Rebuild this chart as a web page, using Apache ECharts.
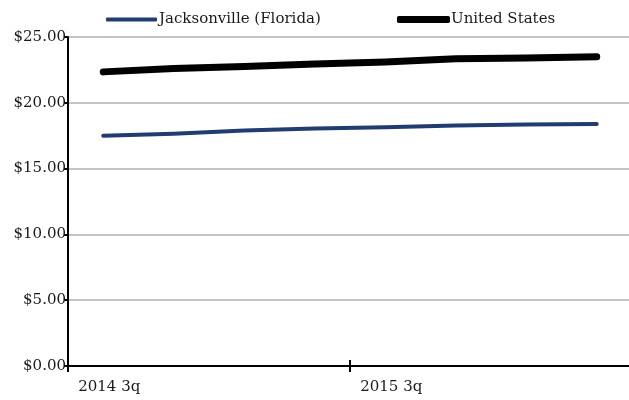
<!DOCTYPE html>
<html>
<head>
<meta charset="utf-8">
<script src="https://cdn.jsdelivr.net/npm/echarts@6/dist/echarts.min.js"></script>
<style>
  html, body { margin: 0; padding: 0; background: #fff; overflow: hidden; }
  /* the plot runs slightly past the right edge of the page */
  #chart { width: 640px; height: 400px; }
</style>
</head>
<body>
<div id="chart"></div>
<script>
// Quarterly average hourly wage, 2014 3q through 2016 2q
const quarters = ['2014 3q', '2014 4q', '2015 1q', '2015 2q', '2015 3q', '2015 4q', '2016 1q', '2016 2q'];
const jacksonville = [17.50, 17.65, 17.90, 18.05, 18.15, 18.28, 18.35, 18.38];
const unitedStates = [22.35, 22.60, 22.75, 22.95, 23.10, 23.35, 23.40, 23.50];
const seriesNames = ['Jacksonville (Florida)', 'United States'];

const FONT = 'DejaVu Serif';
const TEXT = '#1a1a1a';
const SIZE = 15;

const chart = echarts.init(document.getElementById('chart'), null, { renderer: 'canvas' });

const baseX = {
  type: 'category',
  data: quarters,
  boundaryGap: true,
  gridIndex: 0
};

chart.setOption({
  animation: false,
  backgroundColor: '#fff',
  textStyle: { fontFamily: FONT },
  legend: [
    {
      data: [seriesNames[0]],
      left: 101, top: 7,
      icon: 'roundRect',
      itemWidth: 51, itemHeight: 4,
      textStyle: { fontFamily: FONT, fontSize: SIZE, color: TEXT, padding: [0, 0, 0, -3] }
    },
    {
      data: [seriesNames[1]],
      left: 392, top: 7,
      icon: 'roundRect',
      itemWidth: 53, itemHeight: 7,
      textStyle: { fontFamily: FONT, fontSize: SIZE, color: TEXT, padding: [0, 0, 0, -4] }
    }
  ],
  grid: { left: 68, right: 8, top: 37, bottom: 34, containLabel: false },
  xAxis: [
    Object.assign({}, baseX, {
      axisLine: { show: true, lineStyle: { color: '#000', width: 2 } },
      axisTick: { show: true, interval: 3, length: 6, lineStyle: { color: '#000', width: 2 } },
      axisLabel: {
        interval: 3, margin: 14, fontFamily: FONT, fontSize: SIZE, color: TEXT,
        padding: [0, 0, 0, 12]
      },
      splitLine: { show: false }
    }),
    // inward half of the crossing tick marks
    Object.assign({}, baseX, {
      position: 'bottom',
      axisLine: { show: false },
      axisTick: { show: true, inside: true, interval: 3, length: 6, lineStyle: { color: '#000', width: 2 } },
      axisLabel: { show: false },
      splitLine: { show: false }
    })
  ],
  yAxis: {
    type: 'value',
    min: 0, max: 25, interval: 5,
    axisLine: { show: true, lineStyle: { color: '#000', width: 2 } },
    axisTick: { show: true, length: 4, lineStyle: { color: '#000', width: 2 } },
    axisLabel: {
      margin: 2, fontFamily: FONT, fontSize: SIZE, color: TEXT,
      formatter: v => '$' + v.toFixed(2)
    },
    splitLine: { show: true, lineStyle: { color: '#c4c4c4', width: 2 } }
  },
  series: [
    {
      name: seriesNames[0],
      type: 'line',
      data: jacksonville,
      symbol: 'none',
      z: 3,
      color: '#213c70',
      lineStyle: { color: '#213c70', width: 4, cap: 'round', join: 'round' }
    },
    {
      name: seriesNames[1],
      type: 'line',
      data: unitedStates,
      symbol: 'none',
      z: 3,
      color: '#000',
      lineStyle: { color: '#000', width: 7, cap: 'round', join: 'round' }
    }
  ]
});
</script>
</body>
</html>
